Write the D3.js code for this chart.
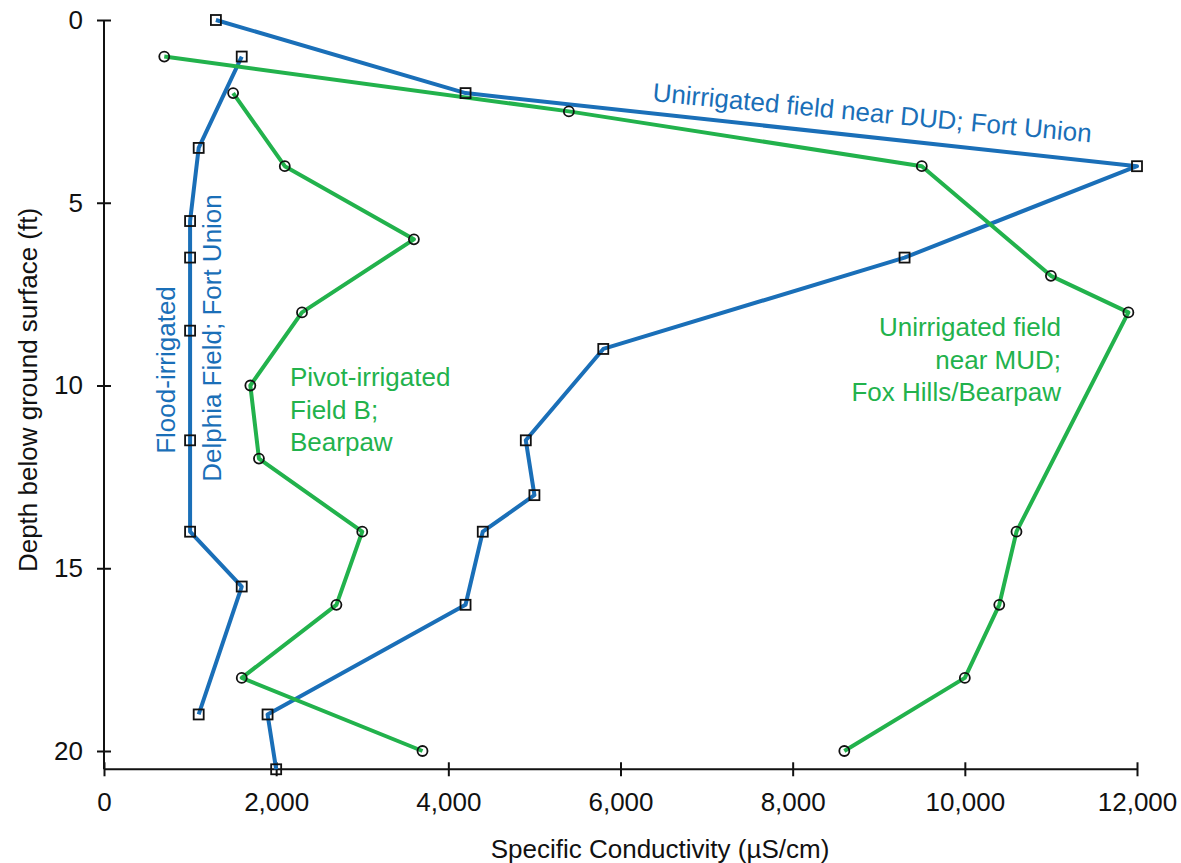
<!DOCTYPE html>
<html>
<head>
<meta charset="utf-8">
<script src="https://cdn.jsdelivr.net/npm/d3@7"></script>
<style>
  body { margin: 0; background: #fff; }
  svg text { font-family: "Liberation Sans", Arial, sans-serif; }
</style>
</head>
<body>
<div id="chart"></div>
<script>
// values (conductivity in µS/cm, depth in ft)
var floodSC    = [1600, 1100, 1000, 1000, 1000, 1000, 1000, 1600, 1100];
var floodDepth = [1, 3.5, 5.5, 6.5, 8.5, 11.5, 14, 15.5, 19];

var dudSC    = [1300, 4200, 12000, 9300, 5800, 4900, 5000, 4400, 4200, 1900, 2000];
var dudDepth = [0, 2, 4, 6.5, 9, 11.5, 13, 14, 16, 19, 20.5];

var pivotSC    = [1500, 2100, 3600, 2300, 1700, 1800, 3000, 2700, 1600, 3700];
var pivotDepth = [2, 4, 6, 8, 10, 12, 14, 16, 18, 20];

var mudSC    = [700, 5400, 9500, 11000, 11900, 10600, 10400, 10000, 8600];
var mudDepth = [1, 2.5, 4, 7, 8, 14, 16, 18, 20];

var xTicks = [0, 2000, 4000, 6000, 8000, 10000, 12000];
var yTicks = [0, 5, 10, 15, 20];

var blue = "#1a6fb8", green = "#22b24c";
var fs = "26px";

var W = 1181, H = 863;
var svg = d3.select("#chart").append("svg").attr("width", W).attr("height", H);

var x = d3.scaleLinear().domain([0, 12000]).range([104, 1137]);
var y = d3.scaleLinear().domain([0, 20]).range([20, 751]);

// axes
var fmt = d3.format(",");
var xAxis = svg.append("g").attr("transform", "translate(0," + y(20.5) + ")")
  .call(d3.axisBottom(x).tickValues(xTicks).tickFormat(fmt).tickSizeInner(7).tickSizeOuter(0).tickPadding(16));
var yAxis = svg.append("g").attr("transform", "translate(" + x(0) + ",0)")
  .call(d3.axisLeft(y).tickValues(yTicks).tickSizeInner(7).tickSizeOuter(0).tickPadding(14));

[xAxis, yAxis].forEach(function (g) {
  g.select(".domain").attr("stroke", "#111").attr("stroke-width", 2);
  g.selectAll(".tick line").attr("stroke", "#111").attr("stroke-width", 2);
  g.selectAll(".tick text").attr("fill", "#111").style("font-size", fs);
});
// ticks cross the axis line
xAxis.selectAll(".tick line").attr("y1", -7);
yAxis.selectAll(".tick line").attr("x1", 7);
// domains start/end exactly at the outer ticks
xAxis.select(".domain").attr("d", "M" + x(0) + ",0H" + x(12000));
yAxis.select(".domain").attr("d", "M0," + y(0) + "V" + y(20.5));

svg.append("text").attr("x", 660).attr("y", 858).attr("text-anchor", "middle")
  .style("font-size", fs).attr("fill", "#111").text("Specific Conductivity (µS/cm)");
svg.append("text").attr("transform", "translate(37,390) rotate(-90)").attr("text-anchor", "middle")
  .style("font-size", fs).attr("fill", "#111").text("Depth below ground surface (ft)");

// series
var series = [
  { sc: dudSC,   depth: dudDepth,   color: blue,  mark: "square" },
  { sc: floodSC, depth: floodDepth, color: blue,  mark: "square" },
  { sc: mudSC,   depth: mudDepth,   color: green, mark: "circle" },
  { sc: pivotSC, depth: pivotDepth, color: green, mark: "circle" }
];

var line = d3.line().x(function (d) { return x(d[0]); }).y(function (d) { return y(d[1]); });

series.forEach(function (s) {
  var pts = d3.zip(s.sc, s.depth);
  svg.append("path").datum(pts).attr("d", line)
    .attr("fill", "none").attr("stroke", s.color).attr("stroke-width", 4)
    .attr("stroke-linejoin", "round");
});

series.forEach(function (s) {
  var pts = d3.zip(s.sc, s.depth);
  if (s.mark === "square") {
    svg.append("g").selectAll("rect").data(pts).enter().append("rect")
      .attr("x", function (d) { return x(d[0]) - 5; })
      .attr("y", function (d) { return y(d[1]) - 5; })
      .attr("width", 10).attr("height", 10)
      .attr("fill", "none").attr("stroke", "#111").attr("stroke-width", 1.8);
  } else {
    svg.append("g").selectAll("circle").data(pts).enter().append("circle")
      .attr("cx", function (d) { return x(d[0]); })
      .attr("cy", function (d) { return y(d[1]); })
      .attr("r", 5)
      .attr("fill", "none").attr("stroke", "#111").attr("stroke-width", 1.8);
  }
});

// annotations
svg.append("text").attr("transform", "translate(652,101) rotate(5.4)")
  .style("font-size", fs).attr("fill", blue).text("Unirrigated field near DUD; Fort Union");

svg.append("text").attr("transform", "translate(175,370) rotate(-90)").attr("text-anchor", "middle")
  .style("font-size", fs).attr("fill", blue).text("Flood-irrigated");
svg.append("text").attr("transform", "translate(221,338) rotate(-90)").attr("text-anchor", "middle")
  .style("font-size", fs).attr("fill", blue).text("Delphia Field; Fort Union");

var pivotLines = ["Pivot-irrigated", "Field B;", "Bearpaw"];
svg.append("g").selectAll("text").data(pivotLines).enter().append("text")
  .attr("x", 290).attr("y", function (d, i) { return 386 + i * 32.5; })
  .style("font-size", fs).attr("fill", green).text(function (d) { return d; });

var mudLines = ["Unirrigated field", "near MUD;", "Fox Hills/Bearpaw"];
svg.append("g").selectAll("text").data(mudLines).enter().append("text")
  .attr("x", 1061).attr("y", function (d, i) { return 336 + i * 32.5; }).attr("text-anchor", "end")
  .style("font-size", fs).attr("fill", green).text(function (d) { return d; });
</script>
</body>
</html>
